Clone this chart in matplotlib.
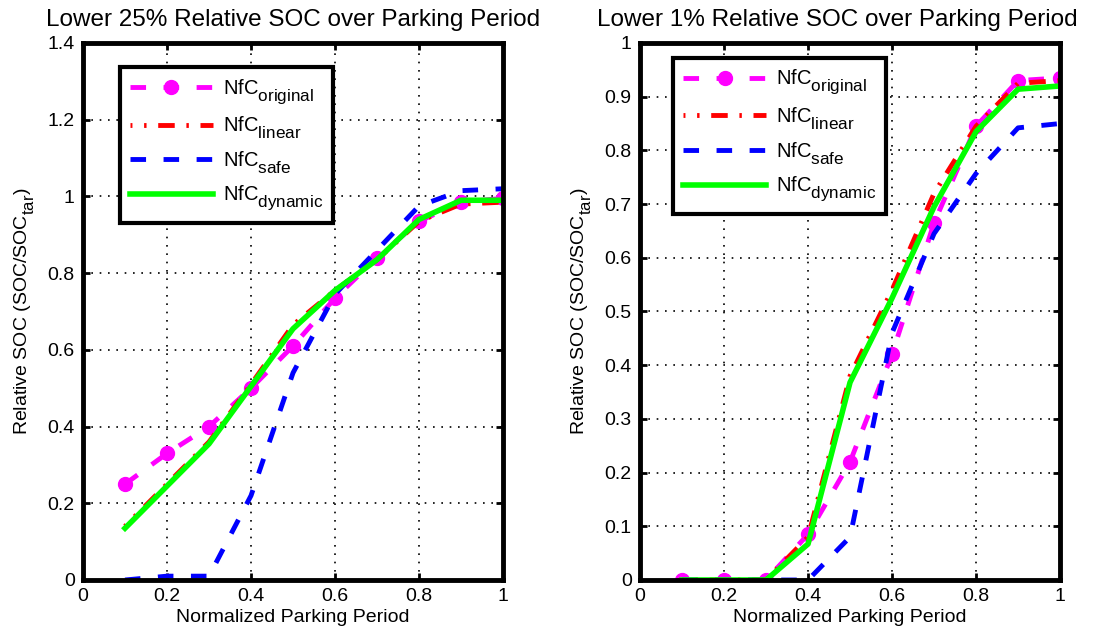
import matplotlib
matplotlib.use("Agg")
import matplotlib.pyplot as plt
import matplotlib._mathtext as mathtext_impl
from matplotlib.ticker import FormatStrFormatter, MultipleLocator

plt.rcParams['font.family'] = ['Liberation Sans', 'DejaVu Sans']
plt.rcParams['mathtext.fontset'] = 'custom'
plt.rcParams['mathtext.rm'] = 'Liberation Sans'
plt.rcParams['mathtext.it'] = 'Liberation Sans'

# larger, lower subscripts (MATLAB-like tex rendering)
mathtext_impl.SHRINK_FACTOR = 0.85
mathtext_impl.FontConstantsBase.sub1 = 0.7
mathtext_impl.FontConstantsBase.sub2 = 0.75

# normalized parking period samples
period = [0.1, 0.2, 0.3, 0.4, 0.5, 0.6, 0.7, 0.8, 0.9, 1.0]

# lower 25% relative SOC
low25_original = [0.25, 0.33, 0.40, 0.50, 0.61, 0.735, 0.84, 0.935, 0.985, 0.995]
low25_linear = [0.14, 0.25, 0.36, 0.51, 0.665, 0.755, 0.835, 0.935, 0.98, 0.985]
low25_safe = [0.0, 0.01, 0.01, 0.22, 0.54, 0.745, 0.86, 0.975, 1.015, 1.02]
low25_dynamic = [0.135, 0.245, 0.355, 0.505, 0.655, 0.755, 0.835, 0.94, 0.99, 0.99]

# lower 1% relative SOC
low1_original = [0.0, 0.0, 0.0, 0.085, 0.22, 0.42, 0.665, 0.845, 0.93, 0.935]
low1_linear = [0.0, 0.0, 0.0, 0.08, 0.38, 0.54, 0.72, 0.845, 0.925, 0.93]
low1_safe = [0.0, 0.0, 0.0, 0.0, 0.08, 0.46, 0.645, 0.757, 0.842, 0.85]
low1_dynamic = [0.0, 0.0, 0.0, 0.067, 0.368, 0.525, 0.695, 0.835, 0.914, 0.92]

labels = [r'NfC$_{\mathrm{original}}$', r'NfC$_{\mathrm{linear}}$',
          r'NfC$_{\mathrm{safe}}$', r'NfC$_{\mathrm{dynamic}}$']


def draw_panel(ax, series, title, ymax, ystep, legend_anchor, title_x):
    orig, lin, safe, dyn = series
    ax.plot(period, orig, color='#ff00ff', lw=3.5, linestyle=(0, (3.2, 3.6)),
            marker='o', markersize=10, label=labels[0])
    ax.plot(period, lin, color='#ff0000', lw=3.5,
            linestyle=(3.0, (3.4, 2.4, 0.5, 2.4)), label=labels[1])
    ax.plot(period, safe, color='#0000ff', lw=3.5, linestyle=(0, (3.2, 3.6)),
            label=labels[2])
    ax.plot(period, dyn, color='#00ff00', lw=4, label=labels[3])

    ax.set_xlim(0, 1)
    ax.set_ylim(0, ymax)
    ax.xaxis.set_major_locator(MultipleLocator(0.2))
    ax.yaxis.set_major_locator(MultipleLocator(ystep))
    ax.xaxis.set_major_formatter(FormatStrFormatter('%g'))
    ax.yaxis.set_major_formatter(FormatStrFormatter('%g'))
    ax.tick_params(direction='in', top=True, right=True, length=5, width=2,
                   labelsize=14, pad=6)
    ax.grid(True, color='black', linestyle=(0, (1, 4)), linewidth=1.2)
    for sp in ax.spines.values():
        sp.set_linewidth(3.5)

    ax.set_title(title, fontsize=17.5, x=title_x, pad=12)
    ax.set_xlabel('Normalized Parking Period', fontsize=14, labelpad=3)
    ax.set_ylabel(r'Relative SOC (SOC/SOC$_{\mathrm{tar}}$)', fontsize=14,
                  labelpad=8)

    leg = ax.legend(loc='upper left', bbox_to_anchor=legend_anchor,
                    borderaxespad=0, fontsize=14.5, handlelength=4.1,
                    labelspacing=0.4, fancybox=False, framealpha=1,
                    edgecolor='black', borderpad=0.5, handletextpad=0.5)
    leg.get_frame().set_linewidth(3)


fig = plt.figure(figsize=(10.95, 6.37), dpi=100)
ax1 = fig.add_axes([0.0758, 0.0895, 0.3836, 0.843])
ax2 = fig.add_axes([0.5845, 0.0895, 0.3836, 0.843])

draw_panel(ax1, (low25_original, low25_linear, low25_safe, low25_dynamic),
           'Lower 25% Relative SOC over Parking Period', 1.4, 0.2,
           (0.088, 0.955), 0.5)
draw_panel(ax2, (low1_original, low1_linear, low1_safe, low1_dynamic),
           'Lower 1% Relative SOC over Parking Period', 1.0, 0.1,
           (0.079, 0.972), 0.47)

fig.savefig('out.png', dpi=100)
